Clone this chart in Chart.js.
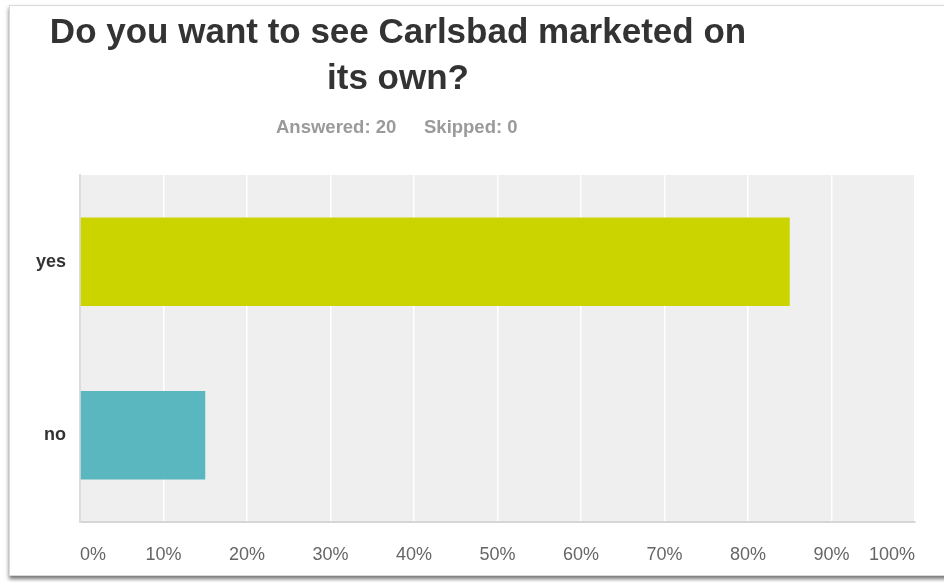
<!DOCTYPE html>
<html>
<head>
<meta charset="utf-8">
<script src="https://cdn.jsdelivr.net/npm/chart.js@4"></script>
<style>
  html, body { margin: 0; padding: 0; background: #fff; overflow: hidden; }
  .frame {
    position: absolute; left: 9px; top: 5px; width: 960px; height: 569px;
    border: 1px solid #d9d9d9; background: #fff;
    box-shadow: 0 3px 4px rgba(0, 0, 0, 0.55);
  }
  .wrap { position: absolute; left: 0; top: 0; width: 944px; height: 582px; }
</style>
</head>
<body>
<div class="frame"></div>
<div class="wrap"><canvas id="myChart" width="944" height="582"></canvas></div>
<script>
const answers = ['yes', 'no']
const percents = [85, 15]
const barColors = ['#ccd400', '#5bb7bf']
const tickValues = [0, 10, 20, 30, 40, 50, 60, 70, 80, 90, 100]
const titleLines = ['Do you want to see Carlsbad marketed on', 'its own?']
const answered = 20
const skipped = 0

const fontFamily = '"Liberation Sans", Arial, sans-serif'

// grey panel behind the bars
const plotBackground = {
    id: 'plotBackground',
    beforeDraw(chart) {
        const { ctx, chartArea } = chart
        ctx.save()
        ctx.fillStyle = '#efefef'
        ctx.fillRect(chartArea.left, chartArea.top, chartArea.right - chartArea.left, chartArea.bottom - chartArea.top)
        ctx.restore()
    }
}

// question heading + answered/skipped line
const heading = {
    id: 'heading',
    afterDraw(chart) {
        const ctx = chart.ctx
        const cx = 398
        ctx.save()
        ctx.textAlign = 'center'
        ctx.textBaseline = 'alphabetic'
        ctx.fillStyle = '#333333'
        ctx.font = 'bold 35px ' + fontFamily
        ctx.fillText(titleLines[0], cx, 43)
        ctx.fillText(titleLines[1], cx, 89)
        ctx.fillStyle = '#9a9a9a'
        ctx.font = 'bold 18.5px ' + fontFamily
        ctx.textAlign = 'left'
        ctx.fillText('Answered: ' + answered, 276, 133)
        ctx.fillText('Skipped: ' + skipped, 424, 133)
        ctx.restore()
    }
}

new Chart(document.getElementById('myChart'), {
    type: 'bar',
    data: {
        labels: answers,
        datasets: [{
            data: percents,
            backgroundColor: barColors,
            categoryPercentage: 1,
            barPercentage: 0.51
        }]
    },
    options: {
        indexAxis: 'y',
        responsive: false,
        animation: false,
        layout: { padding: { top: 175, right: 29, left: 0, bottom: 0 } },
        plugins: {
            legend: { display: false },
            tooltip: { enabled: false }
        },
        scales: {
            x: {
                min: 0,
                max: 100,
                afterBuildTicks: scale => { scale.ticks = tickValues.map(v => ({ value: v })) },
                afterFit: scale => { scale.height = 60 },
                grid: { color: '#ffffff', lineWidth: 1.5, drawTicks: false },
                border: { color: '#d6d6d6', width: 2 },
                ticks: {
                    align: 'inner',
                    padding: 22,
                    color: '#666666',
                    font: { family: fontFamily, size: 18 },
                    callback: v => v + '%'
                }
            },
            y: {
                afterFit: scale => { scale.width = 80 },
                grid: { display: false, drawTicks: false },
                border: { color: '#dcdcdc', width: 2 },
                ticks: {
                    padding: 14,
                    color: '#333333',
                    font: { family: fontFamily, size: 18, weight: 'bold' }
                }
            }
        }
    },
    plugins: [plotBackground, heading]
})
</script>
</body>
</html>
